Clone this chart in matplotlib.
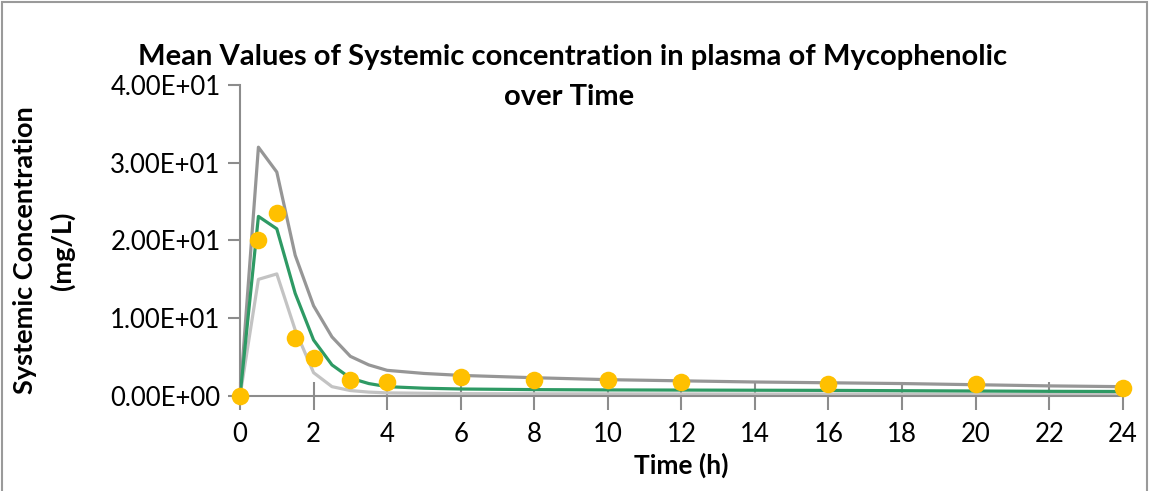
import matplotlib.pyplot as plt
from matplotlib.patches import Rectangle

plt.rcParams['font.family'] = ['Lato', 'DejaVu Sans']

# model time grid and predicted curves (mg/L)
t_model = [0, 0.5, 1, 1.5, 2, 2.5, 3, 3.5, 4, 5, 6, 8, 10, 12, 14, 16, 18, 20, 22, 24]
upper = [0, 32.0, 28.8, 18.1, 11.6, 7.6, 5.1, 4.0, 3.3, 2.9, 2.65, 2.35, 2.1, 1.95, 1.8, 1.7, 1.6, 1.45, 1.3, 1.2]
mean = [0, 23.1, 21.5, 13.2, 7.2, 4.0, 2.3, 1.6, 1.2, 1.0, 0.9, 0.82, 0.78, 0.76, 0.74, 0.72, 0.68, 0.64, 0.6, 0.58]
lower = [0, 15.0, 15.7, 8.5, 3.0, 1.2, 0.7, 0.5, 0.4, 0.35, 0.3, 0.28, 0.27, 0.26, 0.25, 0.25, 0.24, 0.23, 0.22, 0.22]

# observed means
t_obs = [0, 0.5, 1, 1.5, 2, 3, 4, 6, 8, 10, 12, 16, 20, 24]
obs = [0, 20.0, 23.5, 7.4, 4.9, 2.0, 1.85, 2.5, 2.1, 2.0, 1.8, 1.6, 1.5, 1.0]

xticks = list(range(0, 25, 2))
yticks = [0, 10, 20, 30, 40]
ytick_labels = ['0.00E+00', '1.00E+01', '2.00E+01', '3.00E+01', '4.00E+01']

fig = plt.figure(figsize=(11.49, 4.91), dpi=100)
ax = fig.add_axes([0.2089, 0.1935, 0.7682, 0.6334])

ax.plot(t_model, upper, color='#969696', lw=2.3, zorder=2)
ax.plot(t_model, lower, color='#c3c3c3', lw=2.3, zorder=2)
ax.plot(t_model, mean, color='#2e9a64', lw=2.3, zorder=3)
ax.scatter(t_obs, obs, s=160, color='#ffc000', zorder=4, clip_on=False, linewidths=0)

ax.set_xlim(0, 24)
ax.set_ylim(0, 40)
ax.set_xticks(xticks)
ax.set_yticks(yticks)
ax.set_yticklabels(ytick_labels)
for s in ['top', 'right']:
    ax.spines[s].set_visible(False)
for s in ['left', 'bottom']:
    ax.spines[s].set_color('#8c8c8c')
    ax.spines[s].set_linewidth(1.5)
ax.tick_params(axis='both', colors='#8c8c8c', width=1.5, labelsize=18.5, labelcolor='black')
ax.tick_params(axis='y', direction='out', length=9, pad=5)
ax.tick_params(axis='x', direction='inout', length=20, pad=9)

ax.set_xlabel('Time (h)', fontsize=19, fontweight='bold', labelpad=4)
fig.text(0.022, 0.49, 'Systemic Concentration', rotation=90, fontsize=19.5, fontweight='bold',
         ha='center', va='center')
fig.text(0.054, 0.49, '(mg/L)', rotation=90, fontsize=19.5, fontweight='bold',
         ha='center', va='center')

fig.text(0.498, 0.883, 'Mean Values of Systemic concentration in plasma of Mycophenolic',
         fontsize=21, fontweight='bold', ha='center', va='center')
fig.text(0.495, 0.803, 'over Time', fontsize=21, fontweight='bold', ha='center', va='center')

fig.patches.append(Rectangle((0.002, -0.01), 0.996, 1.005, transform=fig.transFigure,
                             fill=False, edgecolor='#9a9a9a', lw=1.5))

fig.savefig('out.png', dpi=100)
